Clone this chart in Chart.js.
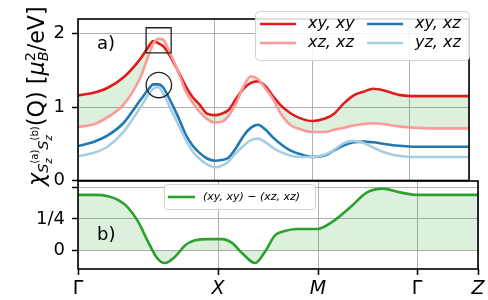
<!DOCTYPE html>
<html>
<head>
<meta charset="utf-8">
<script src="https://cdn.jsdelivr.net/npm/chart.js@4.4.1/dist/chart.umd.min.js"></script>
<style>
    html, body { margin: 0; padding: 0; background: #fff; }
    #wrap { position: relative; width: 488px; height: 300px; }
    #wrap canvas { position: absolute; left: 0; top: 0; }
</style>
</head>
<body>
<div id="wrap">
    <canvas id="chiChart" width="488" height="300"></canvas>
    <canvas id="diffChart" width="488" height="300"></canvas>
</div>
<script>
// path coordinate along Γ-X-M-Γ-Z
const pathTicks = [0, 140, 240, 339, 400];
const pathLabels = ['Γ', 'X', 'M', 'Γ', 'Z'];

// panel a)
const kPath = [0, 17, 30, 47, 64, 72, 77, 82, 87, 94, 102, 110, 117, 124, 132, 140, 147, 154, 162, 170,
               177, 184, 192, 200, 207, 217, 227, 240, 252, 262, 272, 282, 292, 302, 312, 322, 332, 342, 362, 400];
const chiXyXy = [1.16, 1.20, 1.26, 1.41, 1.66, 1.82, 1.90, 1.87, 1.83, 1.70, 1.50, 1.29, 1.14, 1.04, 0.91, 0.89, 0.91, 0.96, 1.12, 1.26,
                 1.33, 1.35, 1.28, 1.14, 1.03, 0.92, 0.85, 0.81, 0.84, 0.91, 1.05, 1.16, 1.21, 1.25, 1.23, 1.19, 1.16, 1.15, 1.15, 1.15];
const chiXzXz = [0.73, 0.77, 0.86, 1.04, 1.41, 1.70, 1.86, 1.93, 1.92, 1.74, 1.50, 1.22, 1.07, 0.94, 0.84, 0.79, 0.80, 0.88, 1.06, 1.30,
                 1.42, 1.38, 1.25, 1.10, 0.92, 0.76, 0.70, 0.66, 0.66, 0.69, 0.72, 0.75, 0.77, 0.78, 0.77, 0.75, 0.73, 0.72, 0.71, 0.71];
const chiXyXz = [0.47, 0.53, 0.61, 0.79, 1.10, 1.24, 1.31, 1.31, 1.27, 1.10, 0.88, 0.63, 0.48, 0.38, 0.30, 0.27, 0.28, 0.31, 0.45, 0.62,
                 0.72, 0.76, 0.69, 0.58, 0.50, 0.41, 0.36, 0.32, 0.34, 0.41, 0.48, 0.52, 0.53, 0.52, 0.50, 0.48, 0.47, 0.46, 0.46, 0.46];
const chiYzXz = [0.33, 0.38, 0.46, 0.67, 1.00, 1.17, 1.25, 1.27, 1.19, 1.00, 0.78, 0.56, 0.40, 0.30, 0.22, 0.18, 0.20, 0.26, 0.38, 0.48,
                 0.55, 0.57, 0.52, 0.44, 0.39, 0.34, 0.32, 0.32, 0.35, 0.42, 0.51, 0.54, 0.51, 0.45, 0.39, 0.35, 0.33, 0.32, 0.32, 0.32];
const seriesNames = ['xy, xy', 'xz, xz', 'xy, xz', 'yz, xz'];
const chiTicks = [0, 1, 2];
const boxMark = [82.5, 1.91];
const circleMark = [82.7, 1.30];

// panel b)
const kDiff = [0, 17, 30, 40, 50, 60, 70, 79, 87, 97, 107, 117, 130, 144, 154, 164, 177, 187, 197, 205,
               219, 239, 255, 272, 289, 305, 322, 339, 362, 400];
const chiDiff = [0.44, 0.44, 0.43, 0.40, 0.34, 0.23, 0.07, -0.06, -0.10, -0.05, 0.04, 0.08, 0.09, 0.09, 0.06, -0.02, -0.10, -0.01, 0.12, 0.15,
                 0.17, 0.17, 0.23, 0.34, 0.46, 0.49, 0.46, 0.44, 0.44, 0.44];
const diffName = '(xy, xy) − (xz, xz)';
const diffTicks = [0, 0.25, 0.5];
const diffTickLabels = ['0', '1/4', ''];

const FONT = "'DejaVu Sans', sans-serif";
const GRID = '#b0b0b0';
const FILL = 'rgba(44, 160, 44, 0.16)';

function pts(xs, ys) {
    return xs.map(function (x, i) { return {x: x, y: ys[i]}; });
}

function lineSet(label, ys, color, order) {
    return {
        label: label, data: pts(kPath, ys), borderColor: color, backgroundColor: color,
        borderWidth: 2.6, pointRadius: 0, cubicInterpolationMode: 'monotone', fill: false, order: order
    };
}

// black box round the axes
const framePlugin = {
    id: 'frame',
    afterDatasetsDraw: function (chart) {
        const a = chart.chartArea, ctx = chart.ctx;
        ctx.save();
        ctx.strokeStyle = '#000';
        ctx.lineWidth = 1.6;
        ctx.strokeRect(a.left, a.top, a.right - a.left, a.bottom - a.top);
        ctx.restore();
    }
};

function drawRuns(ctx, runs, x, cy, target) {
    function font(r, f) {
        return (r.it ? 'italic ' : '') + (r.s * f) + 'px ' + FONT;
    }
    function width(r, f) {
        if (r.stack) return Math.max.apply(null, r.stack.map(function (q) { return width(q, f); }));
        ctx.font = font(r, f);
        return ctx.measureText(r.t).width;
    }
    let total = runs.reduce(function (s, r) { return s + width(r, 1); }, 0);
    const f = target / total;
    total = target;
    ctx.save();
    ctx.translate(x, cy);
    ctx.rotate(-Math.PI / 2);
    ctx.fillStyle = '#000';
    ctx.textBaseline = 'alphabetic';
    ctx.textAlign = 'left';
    let pos = -total / 2;
    runs.forEach(function (r) {
        const parts = r.stack || [r];
        parts.forEach(function (q) {
            ctx.font = font(q, f);
            ctx.fillText(q.t, pos, (q.dy || 0) * f);
        });
        pos += width(r, f);
    });
    ctx.restore();
}

const yLabelRuns = [
    {t: 'χ', s: 20, it: true},
    {t: 'S', s: 13, it: true, dy: 4},
    {stack: [{t: '(a)', s: 9, dy: -5}, {t: 'z', s: 9, it: true, dy: 7}]},
    {t: 'S', s: 13, it: true, dy: 4},
    {stack: [{t: '(b)', s: 9, dy: -5}, {t: 'z', s: 9, it: true, dy: 7}]},
    {t: '(Q) [', s: 20},
    {t: 'μ', s: 20, it: true},
    {stack: [{t: '2', s: 13, dy: -8}, {t: 'B', s: 13, it: true, dy: 4}]},
    {t: '/eV]', s: 20}
];

const chiDecor = {
    id: 'chiDecor',
    afterDraw: function (chart) {
        const ctx = chart.ctx;
        ctx.save();
        // legend
        ctx.beginPath();
        ctx.roundRect(255.5, 11.5, 214, 49, 4);
        ctx.fillStyle = 'rgba(255,255,255,0.85)';
        ctx.fill();
        ctx.strokeStyle = '#d0d0d0';
        ctx.lineWidth = 1;
        ctx.stroke();
        const lineX = [260, 367], textX = [308, 415], rowY = [24, 43];
        for (let i = 0; i < 4; i++) {
            const c = Math.floor(i / 2), r = i % 2;
            const ds = chart.data.datasets[i];
            ctx.strokeStyle = ds.borderColor;
            ctx.lineWidth = 2.6;
            ctx.beginPath();
            ctx.moveTo(lineX[c], rowY[r]);
            ctx.lineTo(lineX[c] + 36, rowY[r]);
            ctx.stroke();
            ctx.fillStyle = '#000';
            ctx.font = 'italic 16px ' + FONT;
            ctx.textBaseline = 'middle';
            ctx.fillText(ds.label, textX[c], rowY[r]);
        }
        ctx.font = '18px ' + FONT;
        ctx.textBaseline = 'middle';
        ctx.fillText('a)', 97, 44);
        ctx.restore();
        drawRuns(ctx, yLabelRuns, 44, 96, 180);
    }
};

const diffDecor = {
    id: 'diffDecor',
    afterDraw: function (chart) {
        const ctx = chart.ctx;
        ctx.save();
        ctx.beginPath();
        ctx.roundRect(164.5, 184.5, 151, 25, 3);
        ctx.fillStyle = 'rgba(255,255,255,0.85)';
        ctx.fill();
        ctx.strokeStyle = '#d0d0d0';
        ctx.lineWidth = 1;
        ctx.stroke();
        ctx.strokeStyle = chart.data.datasets[0].borderColor;
        ctx.lineWidth = 2.6;
        ctx.beginPath();
        ctx.moveTo(168, 197);
        ctx.lineTo(195, 197);
        ctx.stroke();
        ctx.fillStyle = '#000';
        ctx.font = 'italic 11px ' + FONT;
        ctx.textBaseline = 'middle';
        ctx.fillText(chart.data.datasets[0].label, 203, 197);
        ctx.font = '18px ' + FONT;
        ctx.fillText('b)', 97, 235);
        ctx.restore();
    }
};

function xScale(showLabels) {
    return {
        type: 'linear', min: 0, max: 400,
        afterBuildTicks: function (s) { s.ticks = pathTicks.map(function (v) { return {value: v}; }); },
        afterFit: function (s) { s.height = showLabels ? 31 : 0; },
        border: {display: false},
        grid: {color: GRID, lineWidth: 1, drawTicks: showLabels, tickColor: '#000', tickLength: 6, tickWidth: 1.5},
        ticks: {
            display: showLabels, padding: 3, color: '#000', maxRotation: 0, autoSkip: false,
            font: function (c) {
                const up = c.index === 0 || c.index === 3;
                return {family: FONT, size: 19, style: up ? 'normal' : 'italic'};
            },
            callback: function (v) { return pathLabels[pathTicks.indexOf(v)]; }
        }
    };
}

function yScale(min, max, ticks, labels) {
    return {
        min: min, max: max,
        afterBuildTicks: function (s) { s.ticks = ticks.map(function (v) { return {value: v}; }); },
        afterFit: function (s) { s.width = 78; },
        border: {display: false},
        grid: {color: GRID, lineWidth: 1, tickColor: '#000', tickLength: 6, tickWidth: 1.5},
        ticks: {
            padding: 7, color: '#000', font: {family: FONT, size: 18},
            callback: function (v) { return labels ? labels[ticks.indexOf(v)] : String(v); }
        }
    };
}

new Chart(document.getElementById('chiChart'), {
    type: 'line',
    data: {
        datasets: [
            Object.assign(lineSet(seriesNames[0], chiXyXy, '#e31a1c', 4), {fill: '+1', backgroundColor: FILL}),
            lineSet(seriesNames[1], chiXzXz, '#fb9a99', 3),
            lineSet(seriesNames[2], chiXyXz, '#1f78b4', 2),
            lineSet(seriesNames[3], chiYzXz, '#a6cee3', 1),
            {type: 'scatter', data: [{x: boxMark[0], y: boxMark[1]}], pointStyle: 'rect', pointRadius: 17.7,
             borderColor: '#222', backgroundColor: 'rgba(0,0,0,0)', borderWidth: 1.3, order: 0},
            {type: 'scatter', data: [{x: circleMark[0], y: circleMark[1]}], pointStyle: 'circle', pointRadius: 12.7,
             borderColor: '#222', backgroundColor: 'rgba(0,0,0,0)', borderWidth: 1.3, order: 0}
        ]
    },
    options: {
        responsive: false, animation: false,
        layout: {padding: {left: 0, right: 10, top: 3, bottom: 119.5}},
        scales: {x: xScale(false), y: yScale(0, 2.2, chiTicks, null)},
        plugins: {legend: {display: false}, tooltip: {enabled: false}, filler: {drawTime: 'beforeDatasetsDraw'}}
    },
    plugins: [framePlugin, chiDecor]
});

new Chart(document.getElementById('diffChart'), {
    type: 'line',
    data: {
        datasets: [{
            label: diffName, data: pts(kDiff, chiDiff), borderColor: '#2ca02c', backgroundColor: FILL,
            borderWidth: 2.6, pointRadius: 0, cubicInterpolationMode: 'monotone', fill: 'origin'
        }]
    },
    options: {
        responsive: false, animation: false,
        layout: {padding: {left: 0, right: 10, top: 181, bottom: 0}},
        scales: {x: xScale(true), y: yScale(-0.147, 0.55, diffTicks, diffTickLabels)},
        plugins: {legend: {display: false}, tooltip: {enabled: false}, filler: {drawTime: 'beforeDatasetsDraw'}}
    },
    plugins: [framePlugin, diffDecor]
});
</script>
</body>
</html>
